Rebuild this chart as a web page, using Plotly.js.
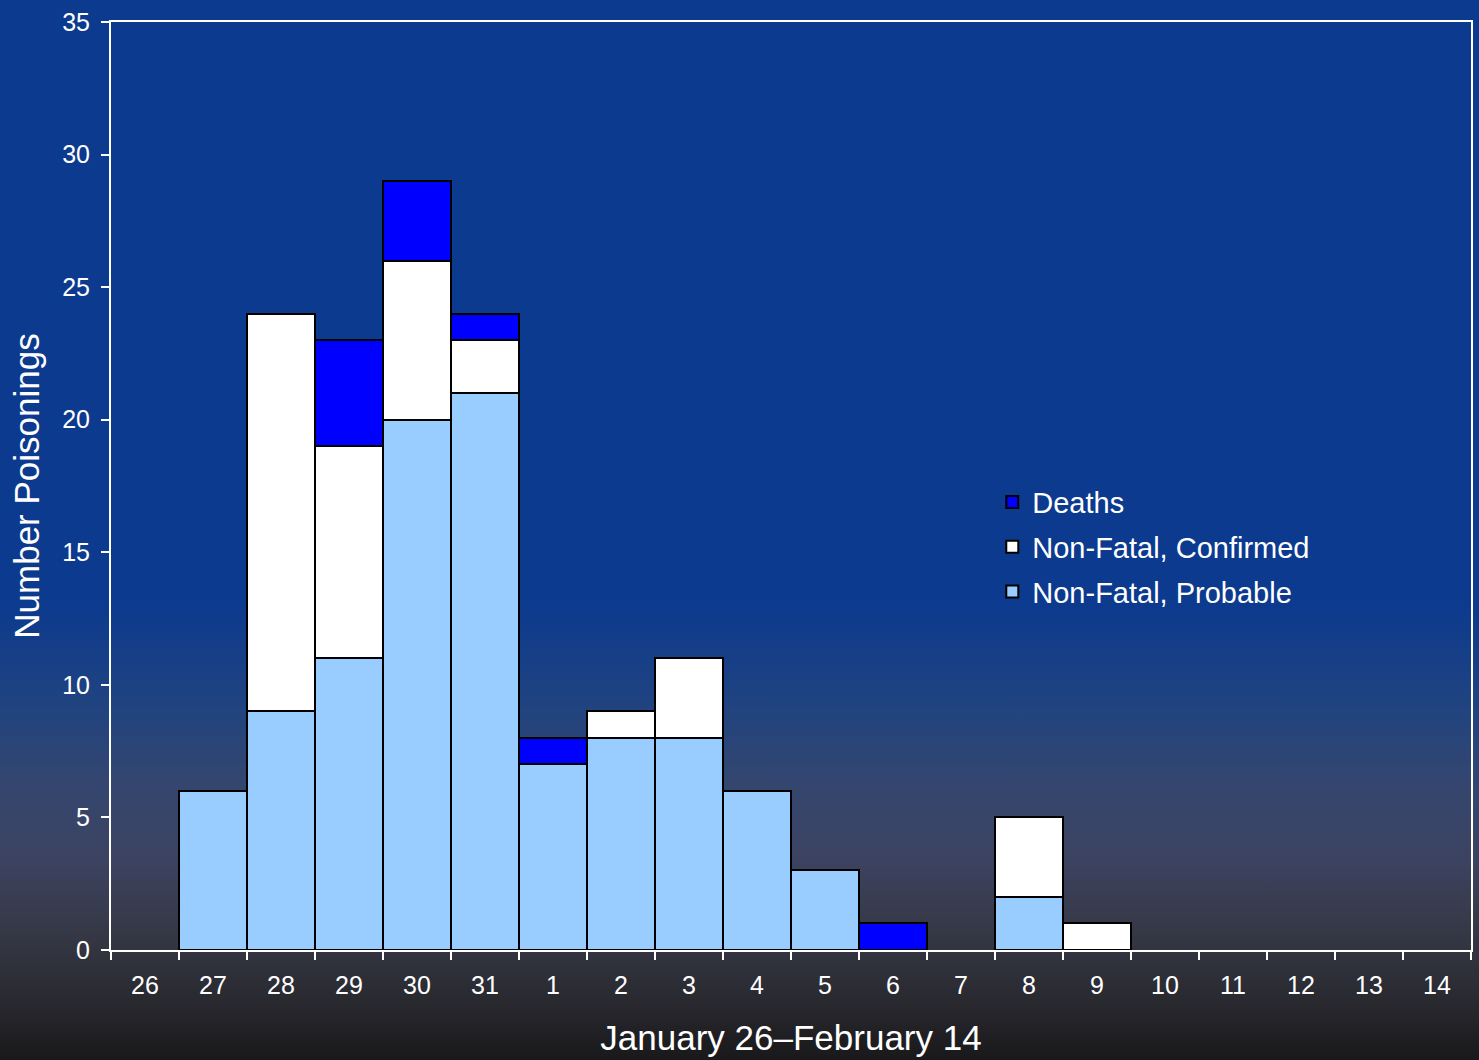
<!DOCTYPE html>
<html>
<head>
<meta charset="utf-8">
<script src="https://cdn.plot.ly/plotly-3.0.1.min.js"></script>
<style>
  html, body { margin: 0; padding: 0; }
  body {
    width: 1479px; height: 1060px; overflow: hidden;
    background: linear-gradient(to bottom,
      #0c3a8e 0%, #0c3a8e 57%, #1f4381 66%, #34466f 74%, #3c4361 81%,
      #353845 88%, #2a2a31 94%, #19191b 100%);
  }
  #chart { width: 1479px; height: 1060px; }
</style>
</head>
<body>
<div id="chart"></div>
<script>
const days = ["26","27","28","29","30","31","1","2","3","4","5","6","7","8","9","10","11","12","13","14"];
const probable  = [0, 6, 9, 11, 20, 21, 7, 8, 8, 6, 3, 0, 0, 2, 0, 0, 0, 0, 0, 0];
const confirmed = [0, 0, 15, 8, 6, 2, 0, 1, 3, 0, 0, 0, 0, 3, 1, 0, 0, 0, 0, 0];
const deaths    = [0, 0, 0, 4, 3, 1, 1, 0, 0, 0, 0, 1, 0, 0, 0, 0, 0, 0, 0, 0];
const yTicks = [0, 5, 10, 15, 20, 25, 30, 35];

const nz = a => a.map(v => v === 0 ? null : v);
const FONT = "Liberation Sans, Arial, sans-serif";

function bar(name, vals, color, rank) {
  return {
    type: "bar", name: name, x: days, y: nz(vals),
    marker: { color: color, line: { color: "#000000", width: 2 } },
    legendgroup: name, legendrank: rank, hoverinfo: "x+y+name"
  };
}

const data = [
  bar("Non-Fatal, Probable", probable, "#99ccff", 3),
  bar("Non-Fatal, Confirmed", confirmed, "#ffffff", 2),
  bar("Deaths", deaths, "#0000ff", 1)
];

const layout = {
  width: 1479, height: 1060,
  paper_bgcolor: "rgba(0,0,0,0)", plot_bgcolor: "rgba(0,0,0,0)",
  margin: { l: 111, r: 8, t: 22, b: 110 },
  barmode: "stack", bargap: 0,
  font: { family: FONT, color: "#ffffff", size: 25 },
  showlegend: true,
  legend: {
    x: 0.648, y: 0.51, xanchor: "left", yanchor: "top",
    bgcolor: "rgba(0,0,0,0)", borderwidth: 0,
    font: { family: FONT, size: 29, color: "#ffffff" },
    traceorder: "grouped", tracegroupgap: 4,
    itemwidth: 30
  },
  xaxis: {
    type: "category", categoryorder: "array", categoryarray: days,
    tickson: "boundaries", ticks: "outside", ticklen: 8, tickwidth: 2, tickcolor: "#ffffff",
    showline: true, linecolor: "#ffffff", linewidth: 2, mirror: true,
    showgrid: false, zeroline: false, ticklabelstandoff: 12,
    tickfont: { family: FONT, size: 25, color: "#ffffff" },
    title: { text: "January 26\u2013February 14", font: { family: FONT, size: 35, color: "#ffffff" }, standoff: 27 }
  },
  yaxis: {
    range: [0, 35], tickvals: yTicks, ticktext: yTicks.map(String),
    ticks: "outside", ticklen: 8, tickwidth: 2, tickcolor: "#ffffff",
    showline: true, linecolor: "#ffffff", linewidth: 2, mirror: true,
    showgrid: false, zeroline: false, ticklabelstandoff: 6,
    tickfont: { family: FONT, size: 25, color: "#ffffff" },
    title: { text: "Number Poisonings", font: { family: FONT, size: 35, color: "#ffffff" }, standoff: 12 }
  }
};

Plotly.newPlot("chart", data, layout, { displayModeBar: false, staticPlot: true });
</script>
</body>
</html>
